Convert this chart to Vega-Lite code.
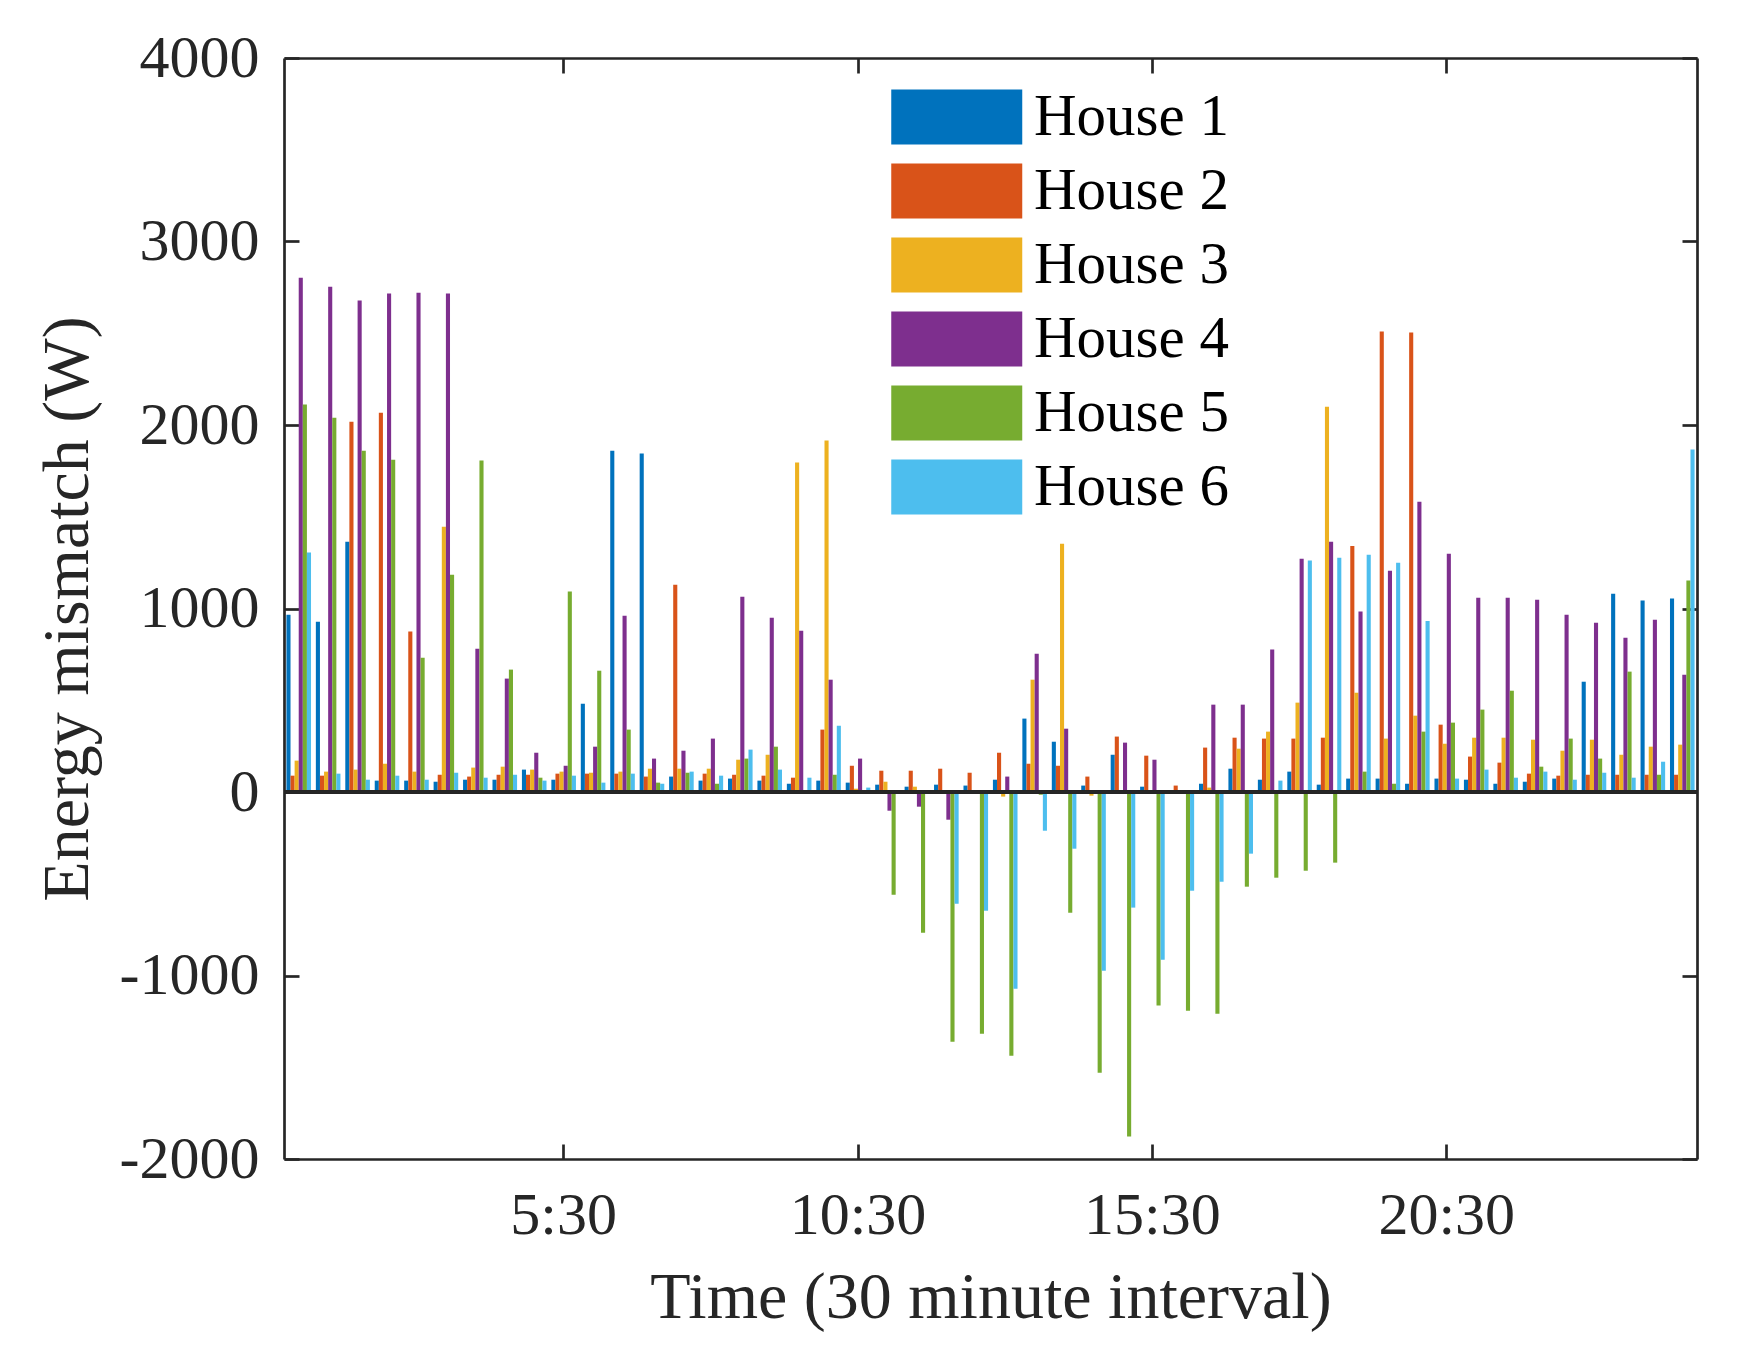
{
  "$schema": "https://vega.github.io/schema/vega-lite/v6.json",
  "autosize": {"type": "none"},
  "padding": {"left": 284, "top": 58, "right": 41, "bottom": 190},
  "width": 1413,
  "height": 1101,
  "background": "white",
  "data": {
    "values": [
      {"t":1,"house":"House 1","value":966},{"t":1,"house":"House 2","value":89},{"t":1,"house":"House 3","value":171},{"t":1,"house":"House 4","value":2803},{"t":1,"house":"House 5","value":2112},{"t":1,"house":"House 6","value":1305},
      {"t":2,"house":"House 1","value":928},{"t":2,"house":"House 2","value":89},{"t":2,"house":"House 3","value":111},{"t":2,"house":"House 4","value":2754},{"t":2,"house":"House 5","value":2040},{"t":2,"house":"House 6","value":100},
      {"t":3,"house":"House 1","value":1364},{"t":3,"house":"House 2","value":2018},{"t":3,"house":"House 3","value":122},{"t":3,"house":"House 4","value":2678},{"t":3,"house":"House 5","value":1860},{"t":3,"house":"House 6","value":67},
      {"t":4,"house":"House 1","value":62},{"t":4,"house":"House 2","value":2067},{"t":4,"house":"House 3","value":154},{"t":4,"house":"House 4","value":2716},{"t":4,"house":"House 5","value":1811},{"t":4,"house":"House 6","value":89},
      {"t":5,"house":"House 1","value":62},{"t":5,"house":"House 2","value":874},{"t":5,"house":"House 3","value":111},{"t":5,"house":"House 4","value":2721},{"t":5,"house":"House 5","value":732},{"t":5,"house":"House 6","value":67},
      {"t":6,"house":"House 1","value":56},{"t":6,"house":"House 2","value":94},{"t":6,"house":"House 3","value":1446},{"t":6,"house":"House 4","value":2716},{"t":6,"house":"House 5","value":1184},{"t":6,"house":"House 6","value":105},
      {"t":7,"house":"House 1","value":67},{"t":7,"house":"House 2","value":84},{"t":7,"house":"House 3","value":133},{"t":7,"house":"House 4","value":781},{"t":7,"house":"House 5","value":1806},{"t":7,"house":"House 6","value":78},
      {"t":8,"house":"House 1","value":67},{"t":8,"house":"House 2","value":94},{"t":8,"house":"House 3","value":138},{"t":8,"house":"House 4","value":618},{"t":8,"house":"House 5","value":667},{"t":8,"house":"House 6","value":94},
      {"t":9,"house":"House 1","value":122},{"t":9,"house":"House 2","value":94},{"t":9,"house":"House 3","value":122},{"t":9,"house":"House 4","value":214},{"t":9,"house":"House 5","value":78},{"t":9,"house":"House 6","value":62},
      {"t":10,"house":"House 1","value":67},{"t":10,"house":"House 2","value":100},{"t":10,"house":"House 3","value":111},{"t":10,"house":"House 4","value":143},{"t":10,"house":"House 5","value":1092},{"t":10,"house":"House 6","value":89},
      {"t":11,"house":"House 1","value":481},{"t":11,"house":"House 2","value":100},{"t":11,"house":"House 3","value":105},{"t":11,"house":"House 4","value":247},{"t":11,"house":"House 5","value":661},{"t":11,"house":"House 6","value":51},
      {"t":12,"house":"House 1","value":1860},{"t":12,"house":"House 2","value":100},{"t":12,"house":"House 3","value":111},{"t":12,"house":"House 4","value":961},{"t":12,"house":"House 5","value":340},{"t":12,"house":"House 6","value":100},
      {"t":13,"house":"House 1","value":1845},{"t":13,"house":"House 2","value":84},{"t":13,"house":"House 3","value":127},{"t":13,"house":"House 4","value":182},{"t":13,"house":"House 5","value":51},{"t":13,"house":"House 6","value":45},
      {"t":14,"house":"House 1","value":84},{"t":14,"house":"House 2","value":1130},{"t":14,"house":"House 3","value":127},{"t":14,"house":"House 4","value":225},{"t":14,"house":"House 5","value":105},{"t":14,"house":"House 6","value":111},
      {"t":15,"house":"House 1","value":62},{"t":15,"house":"House 2","value":100},{"t":15,"house":"House 3","value":127},{"t":15,"house":"House 4","value":291},{"t":15,"house":"House 5","value":45},{"t":15,"house":"House 6","value":89},
      {"t":16,"house":"House 1","value":73},{"t":16,"house":"House 2","value":94},{"t":16,"house":"House 3","value":176},{"t":16,"house":"House 4","value":1064},{"t":16,"house":"House 5","value":182},{"t":16,"house":"House 6","value":231},
      {"t":17,"house":"House 1","value":62},{"t":17,"house":"House 2","value":89},{"t":17,"house":"House 3","value":203},{"t":17,"house":"House 4","value":950},{"t":17,"house":"House 5","value":247},{"t":17,"house":"House 6","value":122},
      {"t":18,"house":"House 1","value":45},{"t":18,"house":"House 2","value":78},{"t":18,"house":"House 3","value":1795},{"t":18,"house":"House 4","value":879},{"t":18,"house":"House 5","value":0},{"t":18,"house":"House 6","value":78},
      {"t":19,"house":"House 1","value":62},{"t":19,"house":"House 2","value":340},{"t":19,"house":"House 3","value":1915},{"t":19,"house":"House 4","value":612},{"t":19,"house":"House 5","value":94},{"t":19,"house":"House 6","value":361},
      {"t":20,"house":"House 1","value":51},{"t":20,"house":"House 2","value":143},{"t":20,"house":"House 3","value":18},{"t":20,"house":"House 4","value":182},{"t":20,"house":"House 5","value":0},{"t":20,"house":"House 6","value":24},
      {"t":21,"house":"House 1","value":40},{"t":21,"house":"House 2","value":116},{"t":21,"house":"House 3","value":56},{"t":21,"house":"House 4","value":-102},{"t":21,"house":"House 5","value":-560},{"t":21,"house":"House 6","value":0},
      {"t":22,"house":"House 1","value":29},{"t":22,"house":"House 2","value":116},{"t":22,"house":"House 3","value":29},{"t":22,"house":"House 4","value":-80},{"t":22,"house":"House 5","value":-767},{"t":22,"house":"House 6","value":0},
      {"t":23,"house":"House 1","value":40},{"t":23,"house":"House 2","value":127},{"t":23,"house":"House 3","value":0},{"t":23,"house":"House 4","value":-151},{"t":23,"house":"House 5","value":-1361},{"t":23,"house":"House 6","value":-609},
      {"t":24,"house":"House 1","value":35},{"t":24,"house":"House 2","value":105},{"t":24,"house":"House 3","value":0},{"t":24,"house":"House 4","value":0},{"t":24,"house":"House 5","value":-1317},{"t":24,"house":"House 6","value":-647},
      {"t":25,"house":"House 1","value":67},{"t":25,"house":"House 2","value":214},{"t":25,"house":"House 3","value":-25},{"t":25,"house":"House 4","value":84},{"t":25,"house":"House 5","value":-1437},{"t":25,"house":"House 6","value":-1072},
      {"t":26,"house":"House 1","value":400},{"t":26,"house":"House 2","value":154},{"t":26,"house":"House 3","value":612},{"t":26,"house":"House 4","value":754},{"t":26,"house":"House 5","value":-15},{"t":26,"house":"House 6","value":-211},
      {"t":27,"house":"House 1","value":274},{"t":27,"house":"House 2","value":143},{"t":27,"house":"House 3","value":1353},{"t":27,"house":"House 4","value":345},{"t":27,"house":"House 5","value":-658},{"t":27,"house":"House 6","value":-309},
      {"t":28,"house":"House 1","value":35},{"t":28,"house":"House 2","value":84},{"t":28,"house":"House 3","value":-20},{"t":28,"house":"House 4","value":0},{"t":28,"house":"House 5","value":-1530},{"t":28,"house":"House 6","value":-974},
      {"t":29,"house":"House 1","value":203},{"t":29,"house":"House 2","value":302},{"t":29,"house":"House 3","value":0},{"t":29,"house":"House 4","value":269},{"t":29,"house":"House 5","value":-1878},{"t":29,"house":"House 6","value":-630},
      {"t":30,"house":"House 1","value":29},{"t":30,"house":"House 2","value":198},{"t":30,"house":"House 3","value":0},{"t":30,"house":"House 4","value":176},{"t":30,"house":"House 5","value":-1164},{"t":30,"house":"House 6","value":-914},
      {"t":31,"house":"House 1","value":7},{"t":31,"house":"House 2","value":35},{"t":31,"house":"House 3","value":0},{"t":31,"house":"House 4","value":0},{"t":31,"house":"House 5","value":-1192},{"t":31,"house":"House 6","value":-538},
      {"t":32,"house":"House 1","value":45},{"t":32,"house":"House 2","value":242},{"t":32,"house":"House 3","value":24},{"t":32,"house":"House 4","value":476},{"t":32,"house":"House 5","value":-1208},{"t":32,"house":"House 6","value":-489},
      {"t":33,"house":"House 1","value":127},{"t":33,"house":"House 2","value":296},{"t":33,"house":"House 3","value":236},{"t":33,"house":"House 4","value":476},{"t":33,"house":"House 5","value":-516},{"t":33,"house":"House 6","value":-336},
      {"t":34,"house":"House 1","value":67},{"t":34,"house":"House 2","value":291},{"t":34,"house":"House 3","value":329},{"t":34,"house":"House 4","value":776},{"t":34,"house":"House 5","value":-467},{"t":34,"house":"House 6","value":62},
      {"t":35,"house":"House 1","value":111},{"t":35,"house":"House 2","value":291},{"t":35,"house":"House 3","value":487},{"t":35,"house":"House 4","value":1271},{"t":35,"house":"House 5","value":-429},{"t":35,"house":"House 6","value":1262},
      {"t":36,"house":"House 1","value":40},{"t":36,"house":"House 2","value":296},{"t":36,"house":"House 3","value":2100},{"t":36,"house":"House 4","value":1364},{"t":36,"house":"House 5","value":-385},{"t":36,"house":"House 6","value":1276},
      {"t":37,"house":"House 1","value":73},{"t":37,"house":"House 2","value":1341},{"t":37,"house":"House 3","value":541},{"t":37,"house":"House 4","value":983},{"t":37,"house":"House 5","value":111},{"t":37,"house":"House 6","value":1293},
      {"t":38,"house":"House 1","value":73},{"t":38,"house":"House 2","value":2509},{"t":38,"house":"House 3","value":291},{"t":38,"house":"House 4","value":1206},{"t":38,"house":"House 5","value":45},{"t":38,"house":"House 6","value":1249},
      {"t":39,"house":"House 1","value":45},{"t":39,"house":"House 2","value":2504},{"t":39,"house":"House 3","value":416},{"t":39,"house":"House 4","value":1582},{"t":39,"house":"House 5","value":329},{"t":39,"house":"House 6","value":932},
      {"t":40,"house":"House 1","value":73},{"t":40,"house":"House 2","value":367},{"t":40,"house":"House 3","value":263},{"t":40,"house":"House 4","value":1298},{"t":40,"house":"House 5","value":378},{"t":40,"house":"House 6","value":73},
      {"t":41,"house":"House 1","value":67},{"t":41,"house":"House 2","value":193},{"t":41,"house":"House 3","value":296},{"t":41,"house":"House 4","value":1059},{"t":41,"house":"House 5","value":449},{"t":41,"house":"House 6","value":122},
      {"t":42,"house":"House 1","value":45},{"t":42,"house":"House 2","value":160},{"t":42,"house":"House 3","value":296},{"t":42,"house":"House 4","value":1059},{"t":42,"house":"House 5","value":552},{"t":42,"house":"House 6","value":78},
      {"t":43,"house":"House 1","value":56},{"t":43,"house":"House 2","value":100},{"t":43,"house":"House 3","value":285},{"t":43,"house":"House 4","value":1048},{"t":43,"house":"House 5","value":138},{"t":43,"house":"House 6","value":111},
      {"t":44,"house":"House 1","value":73},{"t":44,"house":"House 2","value":89},{"t":44,"house":"House 3","value":225},{"t":44,"house":"House 4","value":966},{"t":44,"house":"House 5","value":291},{"t":44,"house":"House 6","value":67},
      {"t":45,"house":"House 1","value":601},{"t":45,"house":"House 2","value":94},{"t":45,"house":"House 3","value":285},{"t":45,"house":"House 4","value":923},{"t":45,"house":"House 5","value":182},{"t":45,"house":"House 6","value":105},
      {"t":46,"house":"House 1","value":1081},{"t":46,"house":"House 2","value":94},{"t":46,"house":"House 3","value":203},{"t":46,"house":"House 4","value":841},{"t":46,"house":"House 5","value":656},{"t":46,"house":"House 6","value":78},
      {"t":47,"house":"House 1","value":1043},{"t":47,"house":"House 2","value":94},{"t":47,"house":"House 3","value":247},{"t":47,"house":"House 4","value":939},{"t":47,"house":"House 5","value":94},{"t":47,"house":"House 6","value":165},
      {"t":48,"house":"House 1","value":1054},{"t":48,"house":"House 2","value":94},{"t":48,"house":"House 3","value":258},{"t":48,"house":"House 4","value":639},{"t":48,"house":"House 5","value":1152},{"t":48,"house":"House 6","value":1867}
    ]
  },
  "layer": [
    {
      "mark": {"type": "bar", "strokeWidth": 0},
      "encoding": {
        "x": {
          "field": "t",
          "type": "ordinal",
          "scale": {"paddingInner": 0, "paddingOuter": 0},
          "title": "Time (30 minute interval)",
          "axis": {
            "orient": "bottom",
            "values": [10, 20, 30, 40],
            "labelAngle": 0,
            "labelExpr": "datum.value == 10 ? '5:30' : datum.value == 20 ? '10:30' : datum.value == 30 ? '15:30' : '20:30'",
            "labelPadding": 42,
            "titlePadding": 20
          }
        },
        "xOffset": {
          "field": "house",
          "type": "nominal",
          "scale": {"paddingInner": 0, "paddingOuter": 0.59}
        },
        "y": {
          "field": "value",
          "type": "quantitative",
          "scale": {"domain": [-2000, 4000], "nice": false, "zero": false},
          "title": "Energy mismatch (W)",
          "axis": {
            "orient": "left",
            "values": [-2000, -1000, 0, 1000, 2000, 3000, 4000],
            "labelExpr": "'' + datum.value",
            "labelPadding": 40,
            "titlePadding": 18
          }
        },
        "color": {
          "field": "house",
          "type": "nominal",
          "scale": {
            "domain": ["House 1", "House 2", "House 3", "House 4", "House 5", "House 6"],
            "range": ["#0072BD", "#D95319", "#EDB120", "#7E2F8E", "#77AC30", "#4DBEEE"]
          },
          "legend": {
            "orient": "none",
            "legendX": 607,
            "legendY": 26,
            "title": null,
            "symbolType": "M-1,-0.84H3V0.84H-1Z",
            "symbolSize": 4290,
            "symbolStrokeWidth": 0,
            "labelFont": "Liberation Serif",
            "labelFontSize": 59,
            "labelColor": "#000000",
            "labelOffset": 77,
            "labelLimit": 0,
            "rowPadding": 11
          }
        }
      }
    },
    {
      "mark": {"type": "bar", "opacity": 0},
      "encoding": {
        "x": {
          "field": "t",
          "type": "ordinal",
          "axis": {"orient": "top", "values": [10, 20, 30, 40], "labels": false, "title": null}
        },
        "y": {
          "field": "value",
          "type": "quantitative",
          "axis": {"orient": "right", "values": [-2000, -1000, 0, 1000, 2000, 3000, 4000], "labels": false, "title": null}
        }
      }
    },
    {
      "mark": {"type": "rule", "color": "#262626", "strokeWidth": 2.5},
      "encoding": {"y": {"datum": 0, "type": "quantitative", "axis": null}}
    }
  ],
  "resolve": {"axis": {"x": "independent", "y": "independent"}},
  "config": {
    "view": {"stroke": null},
    "axis": {
      "grid": false,
      "domainColor": "#262626",
      "domainWidth": 2.7,
      "tickColor": "#262626",
      "tickWidth": 2.7,
      "tickSize": -15,
      "labelFont": "Liberation Serif",
      "labelFontSize": 60,
      "labelColor": "#262626",
      "titleFont": "Liberation Serif",
      "titleFontSize": 66,
      "titleFontWeight": "normal",
      "titleColor": "#262626"
    }
  }
}
